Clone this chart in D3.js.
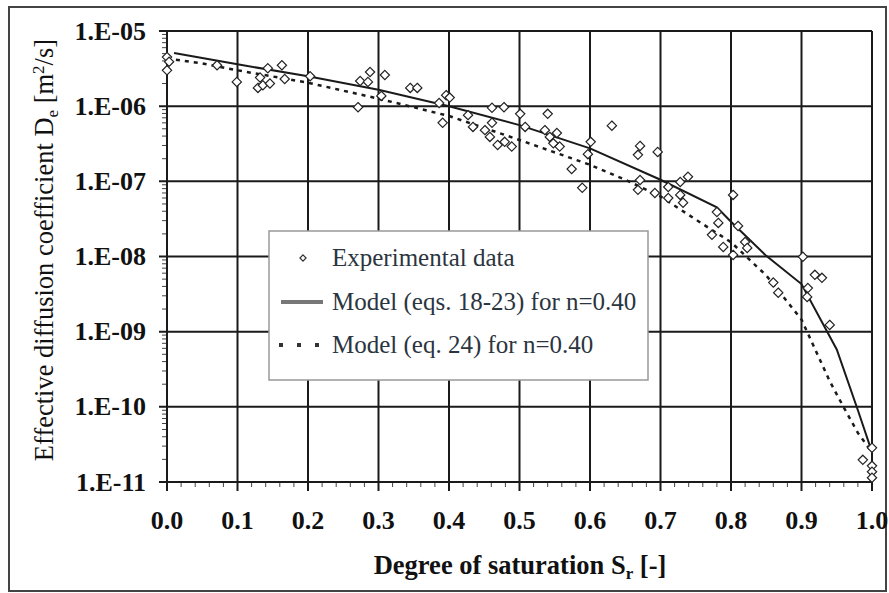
<!DOCTYPE html>
<html>
<head>
<meta charset="utf-8">
<script src="https://cdn.jsdelivr.net/npm/d3@7"></script>
<style>
  body { margin: 0; background: #fff; }
</style>
</head>
<body>
<svg id="chart" width="889" height="593"></svg>
<script>
// experimental points: degree of saturation / effective diffusion coefficient
const expSr = [0.0, 0.0, 0.003, 0.071, 0.099, 0.129, 0.132, 0.136, 0.143, 0.146, 0.163, 0.167, 0.203,
  0.274, 0.288, 0.309, 0.285, 0.271, 0.304, 0.345, 0.355, 0.386, 0.396, 0.391, 0.401,
  0.427, 0.434, 0.451, 0.458, 0.469, 0.479, 0.489, 0.461, 0.478, 0.501, 0.508, 0.461,
  0.54, 0.536, 0.543, 0.553, 0.557, 0.548, 0.601, 0.597, 0.574, 0.589, 0.631,
  0.671, 0.668, 0.696, 0.671, 0.668, 0.692, 0.711, 0.728, 0.739, 0.728, 0.711, 0.732,
  0.803, 0.78, 0.782, 0.773, 0.81, 0.82, 0.823, 0.789, 0.803, 0.86, 0.867,
  0.902, 0.919, 0.929, 0.909, 0.908, 0.94, 1.0, 0.987, 1.0, 1.0, 1.0];
const expDe = [4.5e-6, 3.0e-6, 3.9e-6, 3.5e-6, 2.1e-6, 1.75e-6, 2.4e-6, 1.9e-6, 3.2e-6, 2.0e-6, 3.5e-6, 2.3e-6, 2.5e-6,
  2.16e-6, 2.85e-6, 2.6e-6, 2.1e-6, 9.7e-7, 1.37e-6, 1.75e-6, 1.75e-6, 1.1e-6, 1.4e-6, 6.0e-7, 1.3e-6,
  7.6e-7, 5.3e-7, 4.8e-7, 3.9e-7, 3.05e-7, 3.35e-7, 2.9e-7, 9.5e-7, 9.7e-7, 7.9e-7, 5.3e-7, 6.0e-7,
  7.9e-7, 4.8e-7, 3.9e-7, 4.4e-7, 2.9e-7, 3.2e-7, 3.35e-7, 2.3e-7, 1.46e-7, 8.2e-8, 5.5e-7,
  2.96e-7, 2.25e-7, 2.46e-7, 1.04e-7, 7.7e-8, 7.0e-8, 8.4e-8, 9.8e-8, 1.15e-7, 6.6e-8, 6.0e-8, 5.2e-8,
  6.6e-8, 3.9e-8, 2.8e-8, 1.94e-8, 2.55e-8, 1.56e-8, 1.3e-8, 1.34e-8, 1.05e-8, 4.5e-9, 3.3e-9,
  9.9e-9, 5.7e-9, 5.2e-9, 3.8e-9, 2.9e-9, 1.23e-9, 2.85e-11, 1.97e-11, 1.64e-11, 1.37e-11, 1.14e-11];

// model (eqs. 18-23)
const modelSr = [0.01, 0.1, 0.2, 0.3, 0.4, 0.5, 0.6, 0.7, 0.78, 0.8, 0.85, 0.9, 0.95, 0.98, 1.0];
const modelDe = [5.1e-6, 3.6e-6, 2.5e-6, 1.65e-6, 1.0e-6, 5.6e-7, 2.75e-7, 1.05e-7, 4.5e-8, 2.9e-8, 1.02e-8, 4.3e-9, 5.8e-10, 9e-11, 2.5e-11];

// model (eq. 24)
const model24Sr = [0.0, 0.05, 0.1, 0.2, 0.3, 0.4, 0.5, 0.6, 0.65, 0.7, 0.75, 0.8, 0.85, 0.9, 0.94, 0.96, 0.98, 1.0];
const model24De = [4.3e-6, 3.7e-6, 3.0e-6, 2.05e-6, 1.26e-6, 7.4e-7, 3.55e-7, 1.66e-7, 1.05e-7, 6.3e-8, 3.1e-8, 1.55e-8, 5.6e-9, 1.45e-9, 2.2e-10, 9.8e-11, 4.5e-11, 2.5e-11];

const xTicks = [0, 0.1, 0.2, 0.3, 0.4, 0.5, 0.6, 0.7, 0.8, 0.9, 1.0];
const yTicks = [1e-5, 1e-6, 1e-7, 1e-8, 1e-9, 1e-10, 1e-11];
const yTickLabels = ["1.E-05", "1.E-06", "1.E-07", "1.E-08", "1.E-09", "1.E-10", "1.E-11"];

const svg = d3.select("#chart");
const serif = "'Liberation Serif'";
const pLeft = 167, pRight = 872, pTop = 31, pBottom = 482;

const x = d3.scaleLinear().domain([0, 1]).range([pLeft, pRight]);
const y = d3.scaleLog().domain([1e-11, 1e-5]).range([pBottom, pTop]);

// outer frame
svg.append("rect")
    .attr("x", 9).attr("y", 7)
    .attr("width", 877).attr("height", 584)
    .attr("fill", "none")
    .attr("stroke", "#444")
    .attr("stroke-width", 2);

// minor ticks
let minorY = [];
for (let e = -11; e < -5; e++) {
    for (let m = 2; m <= 9; m++) minorY.push(m * Math.pow(10, e));
}
svg.append("g").selectAll("line")
    .data(minorY)
    .join("line")
    .attr("x1", pLeft - 5).attr("x2", pLeft)
    .attr("y1", d => y(d)).attr("y2", d => y(d))
    .attr("stroke", "#444").attr("stroke-width", 1);

let minorX = d3.range(0, 51).map(i => i / 50);
svg.append("g").selectAll("line")
    .data(minorX)
    .join("line")
    .attr("x1", d => x(d)).attr("x2", d => x(d))
    .attr("y1", pBottom).attr("y2", pBottom + 5)
    .attr("stroke", "#444").attr("stroke-width", 1);

// grid
const grid = svg.append("g");
grid.selectAll(".vgrid")
    .data(xTicks)
    .join("line")
    .attr("class", "vgrid")
    .attr("x1", d => x(d)).attr("x2", d => x(d))
    .attr("y1", pTop).attr("y2", pBottom + 9)
    .attr("stroke", "#1a1a1a").attr("stroke-width", 2);
grid.selectAll(".hgrid")
    .data(yTicks)
    .join("line")
    .attr("class", "hgrid")
    .attr("x1", pLeft - 8).attr("x2", pRight)
    .attr("y1", d => y(d)).attr("y2", d => y(d))
    .attr("stroke", "#1a1a1a").attr("stroke-width", 2);

// tick labels
svg.append("g").selectAll("text")
    .data(yTicks)
    .join("text")
    .attr("x", 146)
    .attr("y", d => y(d))
    .attr("dy", "0.33em")
    .attr("text-anchor", "end")
    .style("font-family", serif)
    .style("font-size", "26px")
    .style("font-weight", "bold")
    .attr("fill", "#111")
    .text((d, i) => yTickLabels[i]);

svg.append("g").selectAll("text")
    .data(xTicks)
    .join("text")
    .attr("x", d => x(d))
    .attr("y", 529)
    .attr("text-anchor", "middle")
    .style("font-family", serif)
    .style("font-size", "26px")
    .style("font-weight", "bold")
    .attr("fill", "#111")
    .text(d => d.toFixed(1));

// axis titles
let xTitle = svg.append("text")
    .attr("x", 520).attr("y", 574)
    .attr("text-anchor", "middle")
    .style("font-family", serif)
    .style("font-size", "26.5px")
    .style("font-weight", "bold")
    .attr("fill", "#111");
xTitle.append("tspan").text("Degree of saturation S");
xTitle.append("tspan").attr("dy", 5).style("font-size", "17px").text("r");
xTitle.append("tspan").attr("dy", -5).text(" [-]");

let yTitle = svg.append("text")
    .attr("transform", "translate(53,250) rotate(-90)")
    .attr("text-anchor", "middle")
    .style("font-family", serif)
    .style("font-size", "26.5px")
    .attr("fill", "#111");
yTitle.append("tspan").text("Effective diffusion coefficient D");
yTitle.append("tspan").attr("dy", 5).style("font-size", "17px").text("e");
yTitle.append("tspan").attr("dy", -5).text(" [m");
yTitle.append("tspan").attr("dy", -9).style("font-size", "17px").text("2");
yTitle.append("tspan").attr("dy", 9).text("/s]");

// model lines
svg.append("clipPath").attr("id", "plotClip")
    .append("rect")
    .attr("x", pLeft).attr("y", pTop)
    .attr("width", pRight - pLeft + 2).attr("height", pBottom - pTop);

let modelLine = d3.line().x(d => x(d[0])).y(d => y(d[1]));

svg.append("path")
    .attr("clip-path", "url(#plotClip)")
    .attr("d", modelLine(d3.zip(model24Sr, model24De)))
    .attr("fill", "none")
    .attr("stroke", "#1a1a1a")
    .attr("stroke-width", 2.5)
    .attr("stroke-dasharray", "4,5");

svg.append("path")
    .attr("clip-path", "url(#plotClip)")
    .attr("d", modelLine(d3.zip(modelSr, modelDe)))
    .attr("fill", "none")
    .attr("stroke", "#1a1a1a")
    .attr("stroke-width", 2);

// experimental diamonds
let diamond = d3.symbol().type(d3.symbolDiamond2).size(55);
svg.append("g").selectAll("path")
    .data(d3.zip(expSr, expDe))
    .join("path")
    .attr("d", diamond)
    .attr("transform", d => `translate(${x(d[0])},${y(d[1])})`)
    .attr("fill", "#fff")
    .attr("stroke", "#222")
    .attr("stroke-width", 1.2);

// legend
let legend = svg.append("g");
legend.append("rect")
    .attr("x", 269).attr("y", 231)
    .attr("width", 379).attr("height", 149)
    .attr("fill", "#fff")
    .attr("stroke", "#999")
    .attr("stroke-width", 1.5);

legend.append("path")
    .attr("d", d3.symbol().type(d3.symbolDiamond2).size(24))
    .attr("transform", "translate(303,258)")
    .attr("fill", "#fff").attr("stroke", "#333").attr("stroke-width", 1.2);
legend.append("line")
    .attr("x1", 281).attr("x2", 323).attr("y1", 302).attr("y2", 302)
    .attr("stroke", "#777").attr("stroke-width", 4);
legend.append("line")
    .attr("x1", 279).attr("x2", 323).attr("y1", 345).attr("y2", 345)
    .attr("stroke", "#333").attr("stroke-width", 4)
    .attr("stroke-dasharray", "4,14");

let legendLabels = ["Experimental data", "Model (eqs. 18-23) for n=0.40", "Model (eq. 24) for n=0.40"];
legend.selectAll(".legLabel")
    .data(legendLabels)
    .join("text")
    .attr("class", "legLabel")
    .attr("x", 332)
    .attr("y", (d, i) => 258 + i * 43.5)
    .attr("dy", "0.33em")
    .style("font-family", serif)
    .style("font-size", "25px")
    .attr("fill", "#2b3540")
    .text(d => d);
</script>
</body>
</html>
